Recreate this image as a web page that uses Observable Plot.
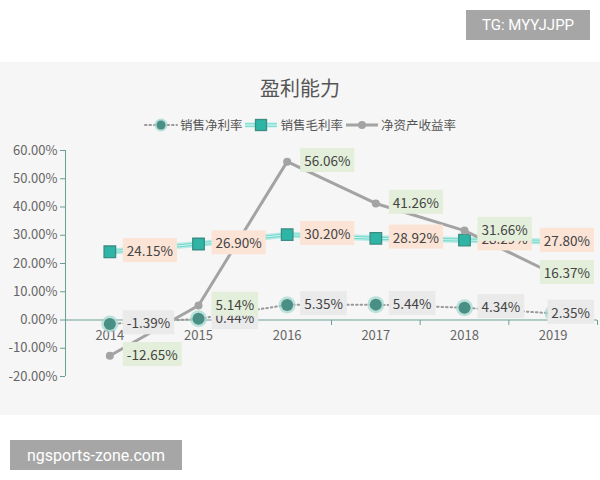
<!DOCTYPE html>
<html>
<head>
<meta charset="utf-8">
<script src="https://cdn.jsdelivr.net/npm/d3@7"></script>
<script src="https://cdn.jsdelivr.net/npm/@observablehq/plot@0.6"></script>
<style>
  html, body { margin: 0; padding: 0; background: #fff; width: 600px; height: 480px; overflow: hidden; }
  body { position: relative; font-family: "Noto Sans CJK SC", "Noto Sans", sans-serif; }
  .badge { position: absolute; background: #a6a6a6; color: #fff; display: flex; align-items: center; justify-content: center; font-family: Roboto, "Noto Sans", sans-serif; }
  #panel { position: absolute; left: 0; top: 62px; width: 600px; height: 353px; background: #f6f6f6; }
  #title { position: absolute; left: 0; width: 600px; top: 12px; text-align: center; font-size: 20px; color: #555; line-height: 28px; }
  #legend { position: absolute; left: 0; width: 600px; top: 54px; display: flex; justify-content: center; align-items: center; font-size: 12.5px; color: #555; line-height: 18px; }
  #legend .item { display: flex; align-items: center; margin: 0 1px; }
  #legend svg { margin-right: 2px; }
  #chart { position: absolute; left: 0; top: 78px; }
</style>
</head>
<body>
<div class="badge" style="left:466px;top:10px;width:124px;height:30px;font-size:15px;">TG: MYYJJPP</div>
<div id="panel">
  <div id="title"></div>
  <div id="legend"></div>
  <div id="chart"></div>
</div>
<div class="badge" style="left:10px;top:440px;width:172px;height:30px;font-size:16px;">ngsports-zone.com</div>
<script>
// ---- data ----
const titleText = "盈利能力";
const years = ["2014", "2015", "2016", "2017", "2018", "2019"];
const seriesNames = ["销售净利率", "销售毛利率", "净资产收益率"];
const netMargin = [-1.39, 0.44, 5.35, 5.44, 4.34, 2.35];
const grossMargin = [24.15, 26.90, 30.20, 28.92, 28.29, 27.80];
const roe = [-12.65, 5.14, 56.06, 41.26, 31.66, 16.37];
const yTicks = [-20, -10, 0, 10, 20, 30, 40, 50, 60];

// ---- styles ----
const axisColor = "#6a9e96";
const labelColor = "#444";
const font = "'Noto Sans CJK SC', 'Noto Sans', sans-serif";
const fmt = v => v.toFixed(2) + "%";
const rows = vals => years.map((year, i) => ({i, year, v: vals[i]}));
const netRows = rows(netMargin), grossRows = rows(grossMargin), roeRows = rows(roe);
const X = d => d.i + 0.5;

document.getElementById("title").textContent = titleText;

// legend
const legendSymbols = [
  `<svg width="34" height="14"><line x1="1" y1="7" x2="33" y2="7" stroke="#999" stroke-width="2" stroke-dasharray="1.5,3" stroke-linecap="round"/><circle cx="17" cy="7" r="6.5" fill="#a8d8d0" opacity="0.8"/><circle cx="17" cy="7" r="4.5" fill="#4a8f86"/></svg>`,
  `<svg width="34" height="14"><line x1="1" y1="7" x2="33" y2="7" stroke="#86e0d6" stroke-width="4.5"/><line x1="1" y1="7" x2="33" y2="7" stroke="#c9f3ee" stroke-width="1.2"/><rect x="11.5" y="1.5" width="11" height="11" fill="#2fb5a5" stroke="#3b8c82" stroke-width="1.3"/></svg>`,
  `<svg width="34" height="14"><line x1="1" y1="7" x2="33" y2="7" stroke="#a3a3a3" stroke-width="3"/><circle cx="17" cy="7" r="4" fill="#a3a3a3"/></svg>`
];
const legend = document.getElementById("legend");
seriesNames.forEach((name, k) => {
  const item = document.createElement("div");
  item.className = "item";
  item.innerHTML = legendSymbols[k] + `<span>${name}</span>`;
  legend.appendChild(item);
});

const tickDown = { draw(ctx) { ctx.moveTo(0, 0); ctx.lineTo(0, 5); } };

const labelOpts = () => ({
  x: X, y: "v", text: d => fmt(d.v), textAnchor: "start", dx: 17,
  fill: labelColor, fontSize: 13.5
});

const chart = Plot.plot({
  width: 600, height: 275,
  marginTop: 10, marginBottom: 39, marginLeft: 65, marginRight: 3,
  x: {type: "linear", domain: [0, years.length], axis: null},
  y: {domain: [-20, 60], axis: null},
  style: {background: "transparent", fontFamily: font, overflow: "visible"},
  marks: [
    Plot.axisY({ticks: yTicks, tickFormat: fmt, tickSize: 5, tickPadding: 3, stroke: axisColor, fill: "#666", fontSize: 13, label: null}),
    Plot.ruleX([0], {y1: -20, y2: 60, stroke: axisColor}),
    Plot.ruleY([0], {stroke: axisColor}),
    Plot.dot(d3.range(years.length + 1), {x: d => d, y: 0, symbol: tickDown, stroke: axisColor, fill: "none", strokeWidth: 1}),
    Plot.text(years, {x: (d, i) => i + 0.5, y: 0, dy: 16, text: d => d, fill: "#666", fontSize: 13}),
    // 销售净利率
    Plot.line(netRows, {x: X, y: "v", stroke: "#999", strokeWidth: 2, strokeDasharray: "1.5,3", strokeLinecap: "round"}),
    Plot.dot(netRows, {x: X, y: "v", r: 8.5, fill: "#a8d8d0", fillOpacity: 0.75}),
    Plot.dot(netRows, {x: X, y: "v", r: 6, fill: "#4a8f86"}),
    // 销售毛利率
    Plot.line(grossRows, {x: X, y: "v", stroke: "#9ce6dd", strokeWidth: 6, strokeOpacity: 0.7}),
    Plot.line(grossRows, {x: X, y: "v", stroke: "#6fd8cc", strokeWidth: 3}),
    Plot.line(grossRows, {x: X, y: "v", stroke: "#d2f5f1", strokeWidth: 1}),
    Plot.dot(grossRows, {x: X, y: "v", symbol: "square", r: 6.5, fill: "#2fb5a5", stroke: "#3b8c82", strokeWidth: 1.3}),
    // 净资产收益率
    Plot.line(roeRows, {x: X, y: "v", stroke: "#a3a3a3", strokeWidth: 3}),
    Plot.dot(roeRows, {x: X, y: "v", r: 4, fill: "#a3a3a3"}),
    // labels (net, gross, roe)
    Plot.text(netRows, labelOpts()),
    Plot.text(grossRows, labelOpts()),
    Plot.text(roeRows, labelOpts())
  ]
});
document.getElementById("chart").appendChild(chart);

// label backgrounds
const bgColors = ["#eaeaea", "#fbe3d6", "#e3efda"];
const textGroups = Array.from(chart.querySelectorAll('g[aria-label="text"]')).slice(-3);
const svgLeft = chart.getBoundingClientRect().left;
textGroups.forEach((g, k) => {
  g.querySelectorAll("text").forEach(t => {
    const r0 = t.getBoundingClientRect();
    const right = r0.right - svgLeft;
    if (right > 590) t.setAttribute("dx", String(590 - right));
    const b = t.getBBox();
    const rect = document.createElementNS("http://www.w3.org/2000/svg", "rect");
    rect.setAttribute("x", b.x - 4);
    rect.setAttribute("y", b.y - 2);
    rect.setAttribute("width", b.width + 8);
    rect.setAttribute("height", b.height + 4);
    rect.setAttribute("fill", bgColors[k]);
    if (t.getAttribute("transform")) rect.setAttribute("transform", t.getAttribute("transform"));
    g.insertBefore(rect, t);
  });
});
</script>
</body>
</html>
